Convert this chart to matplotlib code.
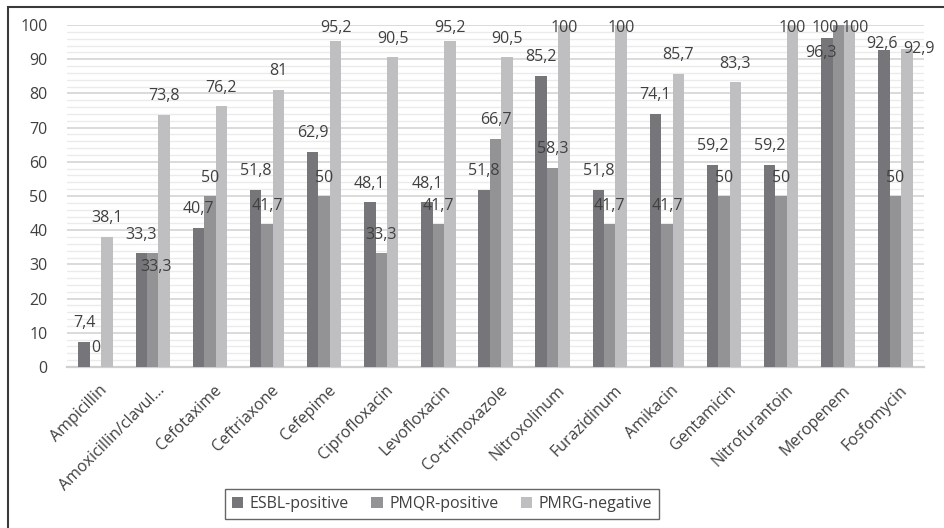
import matplotlib.pyplot as plt
import numpy as np
from matplotlib.patches import Rectangle
from matplotlib.transforms import ScaledTranslation

plt.rcParams['font.family'] = ['Open Sans', 'DejaVu Sans']

drugs = ['Ampicillin', 'Amoxicillin/clavul...', 'Cefotaxime', 'Ceftriaxone', 'Cefepime',
         'Ciprofloxacin', 'Levofloxacin', 'Co-trimoxazole', 'Nitroxolinum', 'Furazidinum',
         'Amikacin', 'Gentamicin', 'Nitrofurantoin', 'Meropenem', 'Fosfomycin']
esbl = [7.4, 33.3, 40.7, 51.8, 62.9, 48.1, 48.1, 51.8, 85.2, 51.8, 74.1, 59.2, 59.2, 96.3, 92.6]
pmqr = [0, 33.3, 50, 41.7, 50, 33.3, 41.7, 66.7, 58.3, 41.7, 41.7, 50, 50, 100, 50]
pmrg = [38.1, 73.8, 76.2, 81, 95.2, 90.5, 95.2, 90.5, 100, 100, 85.7, 83.3, 100, 100, 92.9]
series = ['ESBL-positive', 'PMQR-positive', 'PMRG-negative']
colors = ['#76767a', '#939396', '#bfbfc1']

# hand-placed labels (series index, drug index): (dx px, dy px from bar top)
nudges = {(1, 1): (3.5, -14), (0, 13): (-5.5, -15), (1, 13): (-13, -2.5),
          (2, 13): (5.5, -2.5), (0, 14): (-2, 6.3), (2, 14): (12.5, 0.3)}

fig = plt.figure(figsize=(9.45, 5.28), dpi=100)
ax = fig.add_axes([67/945, 1-367/528, (924-67)/945, (367-25)/528])

x = np.arange(len(drugs))
w = 0.2
px = 72/100
txt = '#404040'
fs = 11.5
for i, vals in enumerate([esbl, pmqr, pmrg]):
    xs = x + (i-1)*w
    ax.bar(xs, vals, w, color=colors[i], label=series[i], zorder=3)
    for j, v in enumerate(vals):
        top_px = v*3.42
        dy = min(18.5, 342 - 2.5 - top_px)
        dx = 0
        if (i, j) in nudges:
            dx, dy = nudges[(i, j)]
        lab = ('%g' % v).replace('.', ',')
        ax.annotate(lab, (xs[j], v), xytext=(dx*px, dy*px), textcoords='offset points',
                    ha='center', va='center', fontsize=fs, color=txt, zorder=4)

ax.set_xlim(-0.5, len(drugs)-0.5)
ax.set_ylim(0, 100)
ax.set_yticks(range(0, 101, 10))
ax.set_yticks(range(0, 101, 2), minor=True)
ax.grid(axis='y', which='major', color='#d4d4d4', lw=1.2, zorder=0)
ax.grid(axis='y', which='minor', color='#ebebeb', lw=1.0, zorder=0)
for s in ['top', 'right', 'left']:
    ax.spines[s].set_visible(False)
ax.spines['bottom'].set_color('#d0d0d0')
ax.spines['bottom'].set_linewidth(1.6)
ax.tick_params(axis='both', which='both', length=0, labelsize=fs, colors=txt)
ax.tick_params(axis='y', pad=14)
ax.set_xticks(x)
ax.set_xticklabels(drugs, rotation=45, ha='right', va='top', rotation_mode='anchor')
ax.tick_params(axis='x', pad=11)
shift = ScaledTranslation(4/100, 0, fig.dpi_scale_trans)
for t in ax.get_xticklabels():
    t.set_transform(t.get_transform() + shift)

leg = fig.legend(loc='center', bbox_to_anchor=(442/945, 1-504/528), ncol=3, fontsize=fs,
                 frameon=True, fancybox=False, handlelength=0.7, handleheight=0.7,
                 handletextpad=0.4, columnspacing=1.4, borderpad=0.45)
leg.get_frame().set_edgecolor('#404040')
leg.get_frame().set_linewidth(1.0)
for t in leg.get_texts():
    t.set_color(txt)

# outer frame
fig.patches.append(Rectangle((8/945, -0.1), 1.2, 1 - 7/528 + 0.1, transform=fig.transFigure,
                             fill=False, edgecolor='#3a3a3a', lw=1.5))

fig.savefig('out.png', dpi=100)
